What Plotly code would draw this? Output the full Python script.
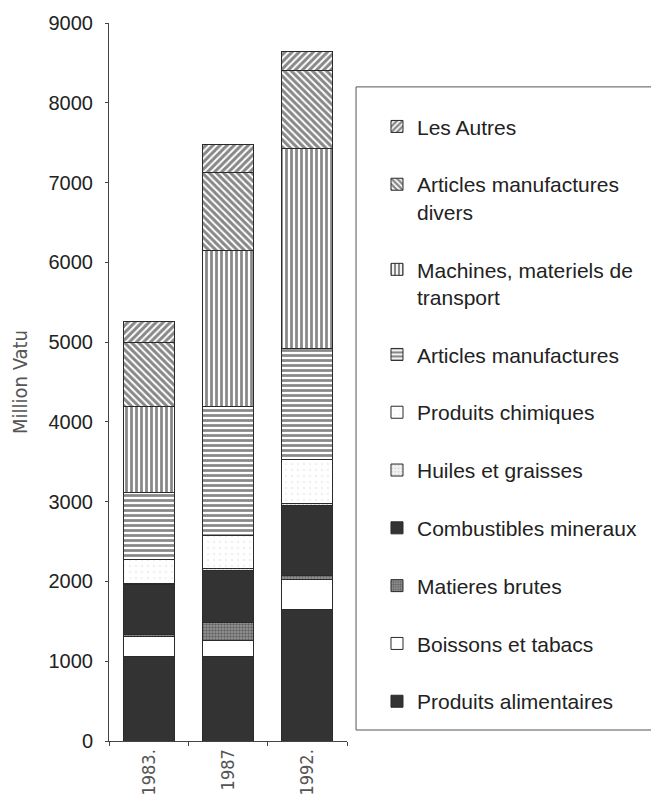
import plotly.graph_objects as go

years = ["1983.", "1987", "1992."]

# segment values, Million Vatu (bottom of the stack first)
produits_alimentaires = [1060, 1060, 1650]
boissons_tabacs = [250, 200, 370]
matieres_brutes = [30, 220, 60]
combustibles_mineraux = [620, 660, 870]
huiles_graisses = [20, 20, 30]
produits_chimiques = [290, 420, 550]
articles_manufactures = [840, 1610, 1390]
machines_transport = [1080, 1960, 2510]
articles_divers = [810, 970, 980]
les_autres = [260, 360, 230]

series = [
    ("Produits alimentaires", produits_alimentaires),
    ("Boissons et tabacs", boissons_tabacs),
    ("Matieres brutes", matieres_brutes),
    ("Combustibles mineraux", combustibles_mineraux),
    ("Huiles et graisses", huiles_graisses),
    ("Produits chimiques", produits_chimiques),
    ("Articles manufactures", articles_manufactures),
    ("Machines, materiels de<br>transport", machines_transport),
    ("Articles manufactures<br>divers", articles_divers),
    ("Les Autres", les_autres),
]

DARK = "#333333"
styles = {
    "Produits alimentaires": dict(color=DARK),
    "Boissons et tabacs": dict(color="white"),
    "Matieres brutes": dict(color="#8a8a8a",
                            pattern=dict(shape=".", fgcolor="#2a2a2a", bgcolor="#9a9a9a",
                                         size=3, solidity=0.5)),
    "Combustibles mineraux": dict(color=DARK),
    "Huiles et graisses": dict(color="#ececec",
                               pattern=dict(shape=".", fgcolor="#bbbbbb", bgcolor="#f2f2f2",
                                            size=4, solidity=0.3)),
    "Produits chimiques": dict(color="white",
                               pattern=dict(shape=".", fgcolor="#e2e2e2", bgcolor="white",
                                            size=6, solidity=0.12)),
    "Articles manufactures": dict(color="white",
                                  pattern=dict(shape="-", fgcolor="#111111", bgcolor="white",
                                               size=5, solidity=0.55)),
    "Machines, materiels de<br>transport": dict(color="white",
                                              pattern=dict(shape="|", fgcolor="#111111",
                                                           bgcolor="white", size=5, solidity=0.55)),
    "Articles manufactures<br>divers": dict(color="white",
                                          pattern=dict(shape="\\", fgcolor="#111111",
                                                       bgcolor="white", size=5, solidity=0.6)),
    "Les Autres": dict(color="white",
                       pattern=dict(shape="/", fgcolor="#111111", bgcolor="white",
                                    size=5, solidity=0.6)),
}

fig = go.Figure()
for i, (name, vals) in enumerate(series):
    st = styles[name]
    marker = dict(color=st["color"], line=dict(color="#2a2a2a", width=1))
    if "pattern" in st:
        marker["pattern"] = st["pattern"]
    fig.add_trace(go.Bar(x=years, y=vals, name=name, marker=marker,
                         legendgroup=str(i), legendrank=1000 - i))

# page body adds an 8px margin, so the figure is 8px smaller than the window
fig.update_layout(
    width=651, height=795,
    barmode="stack", bargap=0.357,
    margin=dict(l=101, r=312, t=15, b=62),
    paper_bgcolor="white", plot_bgcolor="white",
    font=dict(family="Liberation Sans, Arial, sans-serif", color="#222222"),
    showlegend=True,
    legend=dict(
        x=1.126, y=0.884, xanchor="left", yanchor="top",
        traceorder="grouped", tracegroupgap=27.5, valign="top",
        font=dict(size=21, color="#222222"),
        bgcolor="rgba(0,0,0,0)",
    ),
    shapes=[dict(type="rect", xref="paper", yref="paper",
                 x0=1.038, x1=2.4, y0=0.0153, y1=0.911,
                 line=dict(color="#555555", width=1), fillcolor="rgba(0,0,0,0)")],
)

fig.update_yaxes(
    range=[0, 9000], dtick=1000, showgrid=False, zeroline=False, automargin=False,
    showline=True, linecolor="#444444", linewidth=1,
    ticks="outside", ticklen=3, tickcolor="#444444", ticklabelstandoff=8,
    tickfont=dict(size=20, color="#222222"),
    title=dict(text="Million Vatu", standoff=16,
               font=dict(family="Liberation Sans Narrow, DejaVu Sans Condensed, sans-serif",
                         size=20, color="#555555")),
)
fig.update_xaxes(
    showgrid=False, showline=True, linecolor="#444444", linewidth=1, automargin=False,
    ticks="outside", ticklen=4, tickcolor="#444444", tickson="boundaries",
    tickangle=-90,
    tickfont=dict(family="Liberation Sans Narrow, DejaVu Sans Condensed, sans-serif",
                  size=18, color="#555555"),
)

fig.write_html("out.html")
